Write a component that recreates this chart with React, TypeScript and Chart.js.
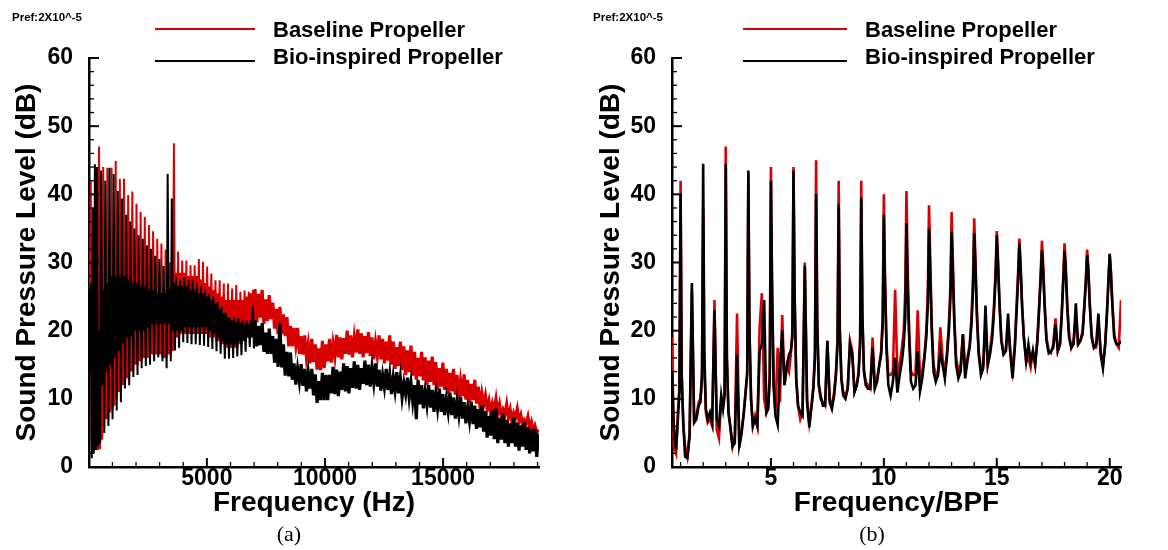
import React, { useEffect, useRef } from "react";
import { Chart, registerables } from "chart.js";

Chart.register(...registerables);

const RED = "#d80000";
const BLACK = "#000000";
const SANS = "'Liberation Sans', Arial, sans-serif";
const SERIF = "'Liberation Serif', 'Times New Roman', serif";

const seriesLabels = ["Baseline Propeller", "Bio-inspired Propeller"];
const prefLabel = "Pref:2X10^-5";
const yTitle = "Sound Pressure Level (dB)";
const xTitleHz = "Frequency (Hz)";
const xTitleBpf = "Frequency/BPF";
const captions = ["(a)", "(b)"];

// ---------- Panel (a): spectrum vs frequency in Hz ----------
const freqHz = [
  40, 84, 128, 172, 216, 260, 304, 348, 392, 436,
  480, 524, 568, 612, 656, 700, 744, 788, 832, 876,
  920, 964, 1008, 1052, 1096, 1140, 1184, 1228, 1272, 1316,
  1360, 1404, 1448, 1492, 1536, 1580, 1624, 1668, 1712, 1756,
  1800, 1844, 1888, 1932, 1976, 2020, 2064, 2108, 2152, 2196,
  2240, 2284, 2328, 2372, 2416, 2460, 2504, 2548, 2592, 2636,
  2680, 2724, 2768, 2812, 2856, 2900, 2944, 2988, 3032, 3076,
  3120, 3164, 3208, 3252, 3296, 3340, 3384, 3428, 3472, 3516,
  3560, 3604, 3648, 3692, 3736, 3780, 3824, 3868, 3912, 3956,
  4000, 4044, 4088, 4132, 4176, 4220, 4264, 4308, 4352, 4396,
  4440, 4484, 4528, 4572, 4616, 4660, 4704, 4748, 4792, 4836,
  4880, 4924, 4968, 5012, 5056, 5100, 5144, 5188, 5232, 5276,
  5320, 5364, 5408, 5452, 5496, 5540, 5584, 5628, 5672, 5716,
  5760, 5804, 5848, 5892, 5936, 5980, 6024, 6068, 6112, 6156,
  6200, 6244, 6288, 6332, 6376, 6420, 6464, 6508, 6552, 6596,
  6640, 6684, 6728, 6772, 6816, 6860, 6904, 6948, 6992,
  7040, 7115, 7190, 7265, 7340, 7415, 7490, 7565, 7640, 7715,
  7790, 7865, 7940, 8015, 8090, 8165, 8240, 8315, 8390, 8465,
  8540, 8615, 8690, 8765, 8840, 8915, 8990, 9065, 9140, 9215,
  9290, 9365, 9440, 9515, 9590, 9665, 9740, 9815, 9890, 9965,
  10040, 10115, 10190, 10265, 10340, 10415, 10490, 10565, 10640, 10715,
  10790, 10865, 10940, 11015, 11090, 11165, 11240, 11315, 11390, 11465,
  11540, 11615, 11690, 11765, 11840, 11915, 11990, 12065, 12140, 12215,
  12290, 12365, 12440, 12515, 12590, 12665, 12740, 12815, 12890, 12965,
  13040, 13115, 13190, 13265, 13340, 13415, 13490, 13565, 13640, 13715,
  13790, 13865, 13940, 14015, 14090, 14165, 14240, 14315, 14390, 14465,
  14540, 14615, 14690, 14765, 14840, 14915, 14990, 15065, 15140, 15215,
  15290, 15365, 15440, 15515, 15590, 15665, 15740, 15815, 15890, 15965,
  16040, 16115, 16190, 16265, 16340, 16415, 16490, 16565, 16640, 16715,
  16790, 16865, 16940, 17015, 17090, 17165, 17240, 17315, 17390, 17465,
  17540, 17615, 17690, 17765, 17840, 17915, 17990, 18065, 18140, 18215,
  18290, 18365, 18440, 18515, 18590, 18665, 18740, 18815, 18890, 18965,
  19040,
];

const baselineSplHz = [
  26, 42, 3, 12, 4, 30, 3, 20, 2.5, 47,
  2.6, 22, 4, 44, 6, 20, 7, 43.9, 7, 24,
  8, 43.9, 8.5, 25, 9, 44.9, 10, 25, 11, 42.3,
  11, 26, 12, 42.3, 12.5, 26, 13, 39.9, 13, 26,
  14, 40.4, 14, 25, 15, 38.6, 15, 25, 15.5, 37.4,
  15.5, 25, 16, 36.7, 16, 24.5, 16, 35.5, 16.5, 24.5,
  16.5, 34.6, 16.5, 24, 16.5, 33.5, 16.5, 24, 16.5, 32.8,
  16, 24, 16, 31.9, 16, 25, 16.5, 30, 16.5, 27,
  17, 47.5, 17.5, 28.5, 19, 31.6, 19, 28.5, 19.5, 30.3,
  19.5, 28.5, 19.5, 30.3, 19.5, 28, 19.5, 29.6, 19.5, 28,
  19.5, 29.6, 19.5, 28, 19.5, 30.5, 19.5, 27.5, 19.5, 30.1,
  19.5, 27, 19.5, 29.4, 19, 26.5, 19, 28.4, 19, 26,
  19, 27.4, 18.5, 25.5, 18.5, 27.4, 18, 25, 18, 26.9,
  17.5, 24.5, 17.5, 26.9, 17.5, 24.5, 17.5, 26.2, 17.5, 24.5,
  17.5, 26.7, 17.5, 24.5, 18, 25.7, 18, 24.5, 18.5, 25.9,
  18.5, 25, 19, 25.7, 19, 25.5, 19.5, 26, 20,
  26.1, 21.2, 25.4, 21.9, 26.0, 21.0, 24.6, 21.4, 25.2, 21.7,
  24.1, 20.3, 23.2, 19.5, 23.5, 19.5, 22.4, 19.2, 22.0, 17.7,
  20.7, 17.7, 20.4, 17.9, 20.4, 16.6, 19.2, 16.5, 19.3, 16.1,
  18.0, 15.2, 18.8, 15.4, 18.0, 14.3, 17.4, 14.2, 18.5, 14.5,
  18.0, 15.5, 18.8, 15.3, 18.1, 16.2, 19.4, 16.1, 19.0, 15.8,
  18.9, 16.6, 20.0, 16.5, 19.3, 16.1, 19.0, 16.8, 20.2, 16.6,
  19.6, 16.1, 19.2, 16.7, 19.8, 16.3, 19.0, 15.8, 18.3, 16.3,
  19.3, 15.8, 18.8, 15.2, 18.4, 15.6, 19.3, 15.0, 18.4, 14.4,
  17.6, 14.8, 18.4, 14.2, 17.7, 13.5, 17.1, 13.9, 17.8, 13.4,
  16.9, 12.8, 16.0, 13.3, 16.9, 12.7, 16.1, 12.0, 15.6, 12.5,
  16.2, 12.0, 15.4, 11.3, 14.5, 11.8, 15.3, 11.3, 14.4, 10.7,
  13.8, 11.1, 14.4, 10.6, 13.5, 9.9, 12.6, 10.4, 13.6, 9.9,
  12.8, 9.3, 12.2, 9.8, 12.8, 9.3, 11.8, 8.7, 10.8, 9.1,
  10.5, 8.5, 9.7, 7.8, 9.3, 8.3, 10.0, 7.9, 9.2, 7.3,
  8.4, 7.7, 9.2, 7.2, 8.4, 6.6, 7.9, 7.2, 8.5, 6.7,
  7.6, 6.0, 6.9, 6.4, 7.4, 5.8, 6.6, 5.1, 6.0, 5.0,
  5.5,
];

const bioSplHz = [
  14, 27, 1.3, 38, 2, 44.4, 2.5, 44, 3, 20,
  3.5, 43.5, 12, 26, 5, 42, 14, 27, 6, 43.9,
  15, 28, 7, 43, 16, 28, 8.3, 40.5, 17, 28,
  9.5, 39.4, 18, 28, 11.5, 37, 19, 27.5, 12, 36,
  19, 27, 13.2, 35, 20, 27, 13.5, 34, 20, 26.5,
  14.5, 33.5, 20, 26.5, 14.8, 32.5, 20.5, 26, 15, 32,
  21, 26, 15.5, 31, 21, 25.5, 16.1, 30.5, 21, 25.5,
  15.5, 29.5, 21, 25.5, 14.5, 43, 21, 26, 15.5, 39.4,
  20, 27, 17.1, 27.9, 20, 26.5, 17.5, 27.5, 20, 26.5,
  18.3, 27.8, 20.5, 26.5, 18.2, 27.5, 20.5, 26, 18, 27.5,
  20.5, 26, 18, 27, 20.5, 25.5, 17.9, 26.5, 20.5, 25.5,
  17.8, 26, 20.5, 25, 17.6, 25.5, 20, 24.5, 17.3, 25,
  19.5, 24, 17, 24.2, 19, 23.2, 16.6, 23.5, 18.5, 22.5,
  15.9, 22.7, 18, 22, 15.9, 21.8, 18, 21.5, 16, 22,
  18, 21.3, 16.2, 21.8, 18.5, 21.2, 16.4, 21.5, 18.5, 21,
  16.9, 21.5, 19, 21, 17.6, 21.5, 19, 23.7, 17.4,
  21.5, 17.7, 20.7, 17.9, 21.1, 16.9, 19.7, 16.6, 20.3, 16.6,
  19.2, 15.3, 18.8, 14.7, 21.0, 14.6, 18.0, 13.4, 16.9, 13.3,
  16.8, 12.8, 15.2, 12.1, 14.5, 12.5, 15.1, 11.9, 14.4, 11.1,
  13.9, 11.5, 14.4, 10.5, 13.6, 9.4, 12.6, 9.8, 13.8, 9.8,
  13.5, 9.8, 13.5, 10.8, 14.7, 10.7, 14.3, 10.4, 14.0, 11.3,
  15.2, 11.1, 14.8, 10.8, 14.5, 11.6, 15.5, 11.5, 15.0, 11.3,
  14.5, 12.2, 15.6, 12.0, 15.0, 11.8, 14.6, 12.3, 15.2, 11.8,
  14.3, 11.2, 13.5, 11.7, 14.4, 11.3, 13.6, 10.7, 13.2, 11.2,
  13.9, 10.8, 13.1, 10.2, 12.3, 10.7, 13.1, 10.2, 12.4, 9.6,
  12.0, 7.0, 12.8, 9.2, 12.0, 8.6, 11.1, 9.1, 12.0, 8.7,
  11.3, 8.1, 10.8, 8.6, 11.5, 8.1, 10.7, 7.6, 10.0, 8.1,
  10.9, 7.6, 10.2, 7.1, 9.6, 7.6, 10.3, 7.1, 9.5, 6.4,
  8.7, 6.8, 9.6, 6.3, 9.0, 5.6, 8.5, 5.8, 9.0, 5.2,
  8.2, 4.3, 7.5, 4.6, 8.3, 4.1, 8.6, 3.5, 7.2, 4.0,
  7.8, 3.5, 6.9, 3.0, 6.4, 3.5, 7.2, 3.0, 6.5, 2.4,
  6.1, 3.0, 6.6, 2.5, 5.9, 2.0, 5.5, 2.3, 5.6, 1.5,
  4.9,
];

// ---------- Panel (b): spectrum vs frequency / BPF ----------
const freqBpf = [
  0.62, 0.7, 0.8, 0.88, 0.95,
  1, 1.05, 1.12, 1.2, 1.3, 1.4, 1.5, 1.6, 1.7, 1.8, 1.88, 1.95,
  2, 2.05, 2.12, 2.2, 2.3, 2.4, 2.5, 2.6, 2.7, 2.8, 2.88, 2.95,
  3, 3.05, 3.12, 3.2, 3.3, 3.4, 3.5, 3.6, 3.7, 3.8, 3.88, 3.95,
  4, 4.05, 4.12, 4.2, 4.3, 4.4, 4.5, 4.6, 4.7, 4.8, 4.88, 4.95,
  5, 5.05, 5.12, 5.2, 5.3, 5.4, 5.5, 5.6, 5.7, 5.8, 5.88, 5.95,
  6, 6.05, 6.12, 6.2, 6.3, 6.4, 6.5, 6.6, 6.7, 6.8, 6.88, 6.95,
  7, 7.05, 7.12, 7.2, 7.3, 7.4, 7.5, 7.6, 7.7, 7.8, 7.88, 7.95,
  8, 8.05, 8.12, 8.2, 8.3, 8.4, 8.5, 8.6, 8.7, 8.8, 8.88, 8.95,
  9, 9.05, 9.12, 9.2, 9.3, 9.4, 9.5, 9.6, 9.7, 9.8, 9.88, 9.95,
  10, 10.05, 10.12, 10.2, 10.3, 10.4, 10.5, 10.6, 10.7, 10.8, 10.88, 10.95,
  11, 11.05, 11.12, 11.2, 11.3, 11.4, 11.5, 11.6, 11.7, 11.8, 11.88, 11.95,
  12, 12.05, 12.12, 12.2, 12.3, 12.4, 12.5, 12.6, 12.7, 12.8, 12.88, 12.95,
  13, 13.05, 13.12, 13.2, 13.3, 13.4, 13.5, 13.6, 13.7, 13.8, 13.88, 13.95,
  14, 14.05, 14.12, 14.2, 14.3, 14.4, 14.5, 14.6, 14.7, 14.8, 14.88, 14.95,
  15, 15.05, 15.12, 15.2, 15.3, 15.4, 15.5, 15.6, 15.7, 15.8, 15.88, 15.95,
  16, 16.05, 16.12, 16.2, 16.3, 16.4, 16.5, 16.6, 16.7, 16.8, 16.88, 16.95,
  17, 17.05, 17.12, 17.2, 17.3, 17.4, 17.5, 17.6, 17.7, 17.8, 17.88, 17.95,
  18, 18.05, 18.12, 18.2, 18.3, 18.4, 18.5, 18.6, 18.7, 18.8, 18.88, 18.95,
  19, 19.05, 19.12, 19.2, 19.3, 19.4, 19.5, 19.6, 19.7, 19.8, 19.88, 19.95,
  20, 20.05, 20.12, 20.2, 20.3, 20.4, 20.5,
];

const baselineSplBpf = [
  19, 3, 2, 8, 12,
  42, 14, 6, 3, 1.5, 5, 26, 7, 7.5, 9.5, 10, 13,
  38, 15, 8, 6.5, 7, 6, 24.5, 5.5, 4.2, 10, 9, 11,
  47, 16, 8, 6, 3, 4.5, 22.5, 2.8, 5, 8, 11, 13.5,
  43, 20, 10, 6, 7.5, 6, 20.5, 25.5, 10, 8, 9, 14,
  44, 27, 12, 8, 17.5, 9.5, 22.3, 12, 15, 14, 16.5, 20,
  44, 25, 13, 9, 7, 8, 30, 10, 6.5, 9, 12, 17,
  45, 22, 12, 10, 9.5, 9, 18.5, 10, 9, 11, 14, 19,
  42, 20, 13, 11, 10.5, 11.5, 18.5, 17, 11, 12, 14, 19,
  42, 22, 14, 12.5, 12, 11.5, 19, 12, 13, 15, 17, 22,
  40, 28, 18, 13.5, 13.5, 14, 26, 13.5, 15, 17.5, 20, 26,
  40.5, 30, 20, 14, 13.5, 13.5, 23, 13, 14, 16.5, 20, 26,
  38.4, 31, 21, 15, 13.5, 14, 20.5, 16, 13.5, 17, 21, 27,
  37.4, 31, 22, 16, 14, 15, 19.5, 14.5, 16, 18, 22, 28,
  36.5, 31, 23, 17, 14.5, 15, 21, 15, 17, 20, 24, 29,
  34.6, 31, 24, 19, 16.7, 17, 20.5, 17, 14.2, 18, 24, 29,
  33.5, 30, 24, 19, 15.4, 16, 14.6, 17, 15, 19, 24, 29,
  33.2, 30, 24, 19, 17, 16.7, 18, 21.8, 17, 18, 23, 28.5,
  32.8, 30, 24, 19.5, 17.5, 18.5, 22, 18, 18.5, 20, 24, 28,
  31.9, 29.5, 24, 19.5, 17.5, 17.5, 21, 17, 15, 18, 23, 28,
  31.3, 29, 24, 19.5, 18, 17.5, 24.5,
];

const bioSplBpf = [
  14, 6, 2.5, 7, 11,
  40, 13, 6.5, 1.5, 1.3, 4.5, 27, 6.5, 7, 9, 9.5, 14,
  44.5, 17, 8.5, 7, 8, 6.5, 23, 7, 6, 10.5, 8.5, 10.5,
  44.5, 16, 8, 6, 3, 3.5, 16.5, 3.2, 5, 8, 11, 14,
  43.5, 20, 10, 6, 7, 6, 17, 18, 24.5, 8, 8.5, 13,
  42, 26, 12, 7.5, 6.2, 15, 20, 12, 14.5, 16.5, 17, 19,
  43.5, 25, 13, 9, 8, 7.5, 29.5, 9.5, 5.8, 9, 11.5, 16,
  40, 21, 12, 10.5, 9, 9, 18.5, 9.5, 8.5, 10.5, 13.5, 18,
  38.5, 20, 13, 10.5, 10, 11.5, 18, 16.5, 11, 12, 13.5, 18,
  39.5, 22, 14, 12, 11.5, 11.5, 17.5, 11.5, 12.5, 15, 16.5, 21,
  37, 27, 17, 12, 10.5, 12.5, 16, 10.9, 13.5, 15.5, 18, 22,
  35.8, 27, 19, 12.5, 11.5, 12, 17, 11.1, 13, 16, 19, 24,
  35, 29, 20, 14, 12.5, 13.5, 17, 15, 13, 16.5, 20, 25,
  34.5, 29, 21, 15, 13, 14, 19.5, 13, 15.5, 17.5, 21, 26,
  34.3, 30, 22, 16.5, 13.5, 14.5, 23.7, 15, 16.5, 19, 23, 28,
  34, 30, 24, 18.5, 16.5, 17, 22.5, 16.5, 13, 17.5, 23, 28,
  32.8, 29.5, 23.5, 19, 15.5, 18, 15.5, 17, 15, 18.5, 23.5, 28,
  31.8, 29, 23.5, 18.5, 16.7, 17, 17.5, 20.9, 17, 18, 22.5, 27.5,
  31.7, 29, 23.5, 19, 17.5, 18, 24, 18, 18.5, 19.5, 23.5, 27.5,
  31.1, 29, 23.5, 19, 17.5, 18, 22.5, 16.5, 14.5, 18, 22.5, 27.5,
  31.2, 28.5, 23.5, 19, 18, 18, 18.5,
];

// ---------- Axis ticks ----------
const dbTicks = [0, 10, 20, 30, 40, 50, 60];
const dbMinorTicks = [2, 4, 6, 8, 12, 14, 16, 18, 22, 24, 26, 28, 32, 34, 36, 38, 42, 44, 46, 48, 52, 54, 56, 58];
const hzTicks = [5000, 10000, 15000];
const hzMinorTicks = [1000, 2000, 3000, 4000, 6000, 7000, 8000, 9000, 11000, 12000, 13000, 14000, 16000, 17000, 18000, 19000];
const bpfTicks = [5, 10, 15, 20];
const bpfMinorTicks = [1, 2, 3, 4, 6, 7, 8, 9, 11, 12, 13, 14, 16, 17, 18, 19];

type PanelProps = {
  left: number;
  xs: number[];
  red: number[];
  black: number[];
  xMin: number;
  xMax: number;
  xTicks: number[];
  xMinor: number[];
  xTitle: string;
  yWidth: number;
  padRight: number;
  lineWidth: number;
  bandFrom: number;
  bandWidth: number;
};

function Panel(p: PanelProps) {
  const ref = useRef<HTMLCanvasElement | null>(null);
  useEffect(() => {
    const canvas = ref.current;
    if (!canvas) return;
    const pts = (ys: number[]) => p.xs.map((x, i) => ({ x, y: ys[i] }));
    const segWidth = (ctx: any) =>
      ctx.p0 && ctx.p0.parsed && ctx.p0.parsed.x >= p.bandFrom ? p.bandWidth : p.lineWidth;
    const inwardTicks = {
      id: "inwardTicks",
      afterDraw(chart: any) {
        const { ctx, chartArea: a } = chart;
        const sx = chart.scales.x;
        const sy = chart.scales.y;
        ctx.save();
        ctx.strokeStyle = "#000";
        const seg = (x1: number, y1: number, x2: number, y2: number, w: number) => {
          ctx.lineWidth = w;
          ctx.beginPath();
          ctx.moveTo(x1, y1);
          ctx.lineTo(x2, y2);
          ctx.stroke();
        };
        p.xTicks.forEach((v) => {
          const x = sx.getPixelForValue(v);
          seg(x, a.bottom, x, a.bottom - 9, 2);
        });
        p.xMinor.forEach((v) => {
          const x = sx.getPixelForValue(v);
          seg(x, a.bottom, x, a.bottom - 5, 1.3);
        });
        dbTicks.forEach((v) => {
          const y = sy.getPixelForValue(v);
          seg(a.left, y, a.left + 10, y, 2);
        });
        dbMinorTicks.forEach((v) => {
          const y = sy.getPixelForValue(v);
          seg(a.left, y, a.left + 5, y, 1.3);
        });
        ctx.restore();
      },
    };
    const chart = new Chart(canvas, {
      type: "line",
      data: {
        datasets: [
          {
            label: seriesLabels[0],
            data: pts(p.red),
            borderColor: RED,
            borderWidth: p.lineWidth,
            segment: { borderWidth: segWidth },
            pointRadius: 0,
            tension: 0,
            order: 2,
          },
          {
            label: seriesLabels[1],
            data: pts(p.black),
            borderColor: BLACK,
            borderWidth: p.lineWidth,
            segment: { borderWidth: segWidth },
            pointRadius: 0,
            tension: 0,
            order: 1,
          },
        ],
      },
      options: {
        animation: false,
        responsive: false,
        events: [],
        layout: { padding: { left: 0, top: 58, right: p.padRight, bottom: 0 } },
        plugins: { legend: { display: false }, tooltip: { enabled: false } },
        scales: {
          x: {
            type: "linear",
            min: p.xMin,
            max: p.xMax,
            afterBuildTicks: (s: any) => {
              s.ticks = p.xTicks.map((v) => ({ value: v }));
            },
            afterFit: (s: any) => {
              s.height = 83;
            },
            grid: { display: true, drawOnChartArea: false, drawTicks: false },
            border: { display: true, color: "#000", width: 2.5 },
            ticks: {
              padding: -2,
              color: "#000",
              autoSkip: false,
              maxRotation: 0,
              font: { family: SANS, size: 23, weight: "bold" },
              callback: (v: any) => String(v),
            },
            title: {
              display: true,
              text: p.xTitle,
              color: "#000",
              font: { family: SANS, size: 28, weight: "bold" },
              padding: { top: 0, bottom: 30 },
            },
          },
          y: {
            type: "linear",
            min: 0,
            max: 60,
            afterBuildTicks: (s: any) => {
              s.ticks = dbTicks.map((v) => ({ value: v }));
            },
            afterFit: (s: any) => {
              s.width = p.yWidth;
            },
            grid: { display: true, drawOnChartArea: false, drawTicks: false },
            border: { display: true, color: "#000", width: 2.5 },
            ticks: {
              padding: 16,
              color: "#000",
              font: { family: SANS, size: 23, weight: "bold" },
              callback: (v: any) => String(v),
            },
            title: {
              display: true,
              text: yTitle,
              color: "#000",
              font: { family: SANS, size: 28, weight: "bold" },
              padding: { top: 10, bottom: 0 },
            },
          },
        },
      },
      plugins: [inwardTicks],
    } as any);
    return () => chart.destroy();
  }, []);
  return (
    <canvas
      ref={ref}
      width={584}
      height={550}
      style={{ position: "absolute", left: p.left, top: 0, width: 584, height: 550, display: "block" }}
    />
  );
}

function Overlay({ x, lineX, lineW }: { x: number; lineX: number; lineW: number }) {
  const txt: React.CSSProperties = {
    position: "absolute",
    fontFamily: SANS,
    fontWeight: "bold",
    fontSize: 22,
    lineHeight: "22px",
    whiteSpace: "nowrap",
    color: "#000",
  };
  return (
    <>
      <div
        style={{
          position: "absolute",
          left: x,
          top: 12,
          fontFamily: SANS,
          fontWeight: "bold",
          fontSize: 11.5,
          lineHeight: "11.5px",
          whiteSpace: "nowrap",
          color: "#000",
        }}
      >
        {prefLabel}
      </div>
      <div style={{ position: "absolute", left: lineX, top: 28, width: lineW, height: 2.4, background: RED }} />
      <div style={{ position: "absolute", left: lineX, top: 59.6, width: lineW, height: 2.4, background: BLACK }} />
      <div style={{ ...txt, left: lineX + lineW + 18, top: 18.7 }}>{seriesLabels[0]}</div>
      <div style={{ ...txt, left: lineX + lineW + 18, top: 46.4 }}>{seriesLabels[1]}</div>
    </>
  );
}

function Caption({ cx, text }: { cx: number; text: string }) {
  return (
    <div
      style={{
        position: "absolute",
        left: cx - 50,
        width: 100,
        top: 522.6,
        textAlign: "center",
        fontFamily: SERIF,
        fontSize: 22,
        lineHeight: "22px",
        color: "#000",
      }}
    >
      {text}
    </div>
  );
}

export default function App() {
  return (
    <div style={{ position: "absolute", left: 0, top: 0, width: 1168, height: 550, background: "#fff", overflow: "hidden" }}>
      <Panel
        left={0}
        xs={freqHz}
        red={baselineSplHz}
        black={bioSplHz}
        xMin={10}
        xMax={19060}
        xTicks={hzTicks}
        xMinor={hzMinorTicks}
        xTitle={xTitleHz}
        yWidth={89}
        padRight={45}
        lineWidth={2}
        bandFrom={7000}
        bandWidth={3.2}
      />
      <Panel
        left={584}
        xs={freqBpf}
        red={baselineSplBpf}
        black={bioSplBpf}
        xMin={0.62}
        xMax={20.5}
        xTicks={bpfTicks}
        xMinor={bpfMinorTicks}
        xTitle={xTitleBpf}
        yWidth={88}
        padRight={47}
        lineWidth={2.6}
        bandFrom={100}
        bandWidth={2.6}
      />
      <Overlay x={12} lineX={155} lineW={100} />
      <Overlay x={593} lineX={743} lineW={104} />
      <Caption cx={289} text={captions[0]} />
      <Caption cx={872} text={captions[1]} />
    </div>
  );
}
